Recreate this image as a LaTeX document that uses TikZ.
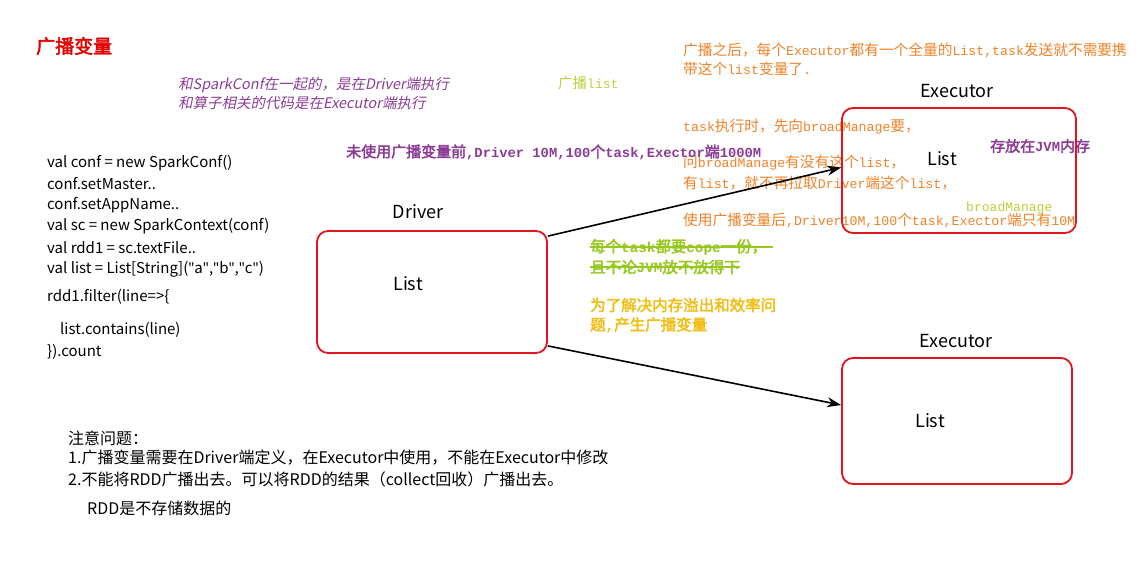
\documentclass[tikz,border=0pt]{standalone}
\usepackage{fontspec}
\usetikzlibrary{calc,arrows.meta}
\setmainfont{Noto Sans CJK SC}
\newfontfamily\lat{Noto Sans}
\newfontfamily\cjkb[FakeBold=2.5]{Noto Sans CJK SC}
\newfontfamily\cjkit[FakeSlant=0.2]{Noto Sans CJK SC}
\newfontfamily\mono[Scale=0.9]{Liberation Mono}
\newfontfamily\monob[Scale=0.92]{Liberation Mono Bold}
\newcommand\m[1]{{\mono #1}}
\newcommand\mb[1]{{\monob #1}}
\newcommand\q{{\lat"}}
\newcommand\fs[1]{\fontsize{#1}{#1}\selectfont}
\definecolor{titlered}{RGB}{228,0,0}
\definecolor{boxred}{RGB}{226,20,30}
\definecolor{purp}{RGB}{140,60,150}
\definecolor{lime}{RGB}{185,210,60}
\definecolor{orng}{RGB}{240,130,40}
\definecolor{sgreen}{RGB}{150,200,30}
\definecolor{gold}{RGB}{240,190,20}
\tikzset{
  txt/.style={anchor=west,inner sep=0pt,font=\fs{15}},
  code/.style={txt,font=\fs{15},text=black},
  note/.style={txt,font=\fs{16},text=black},
  lbl/.style={inner sep=0pt,font=\fs{18},text=black},
  box/.style={draw=boxred,line width=1.8pt,rounded corners=11pt,minimum width=230pt,minimum height=122pt,inner sep=0pt},
  orn/.style={txt,text=orng,font=\fs{14.7}},
  conn/.style={draw=black,line width=1.6pt,-{Stealth[length=14pt,width=10pt]}},
}
\begin{document}
\begin{tikzpicture}[x=1pt,y=-1pt]
\useasboundingbox[fill=white] (0,0) rectangle (1144,560);
% title
\node[txt,text=titlered,font=\fs{19}\cjkb] (title) at (36,46) {广播变量};
% purple italic
\node[txt,text=purp,font=\fs{14.5}\cjkit] (it1) at (178,85) {和SparkConf在一起的，是在Driver端执行};
\node[txt,text=purp,font=\fs{14.5}\cjkit] (it2) at (178,103) {和算子相关的代码是在Executor端执行};
% lime
\node[txt,text=lime,font=\fs{14.5}] (bl) at (558,83) {广播\m{list}};
% orange notes
\node[orn] (o1) at (683,50) {广播之后，每个\m{Executor}都有一个全量的\m{List,task}发送就不需要携};
\node[orn] (o2) at (683,69) {带这个\m{list}变量了\m{.}};
\node[orn] (o3) at (683,127) {\m{task}执行时，先向\m{broadManage}要，};
\node[orn] (o4) at (683,163) {问\m{broadManage}有没有这个\m{list}，};
\node[orn] (o5) at (683,183) {有\m{list}，就不再拉取\m{Driver}端这个\m{list}，};
\node[orn] (o6) at (683,220) {使用广播变量后\m{,Driver10M,100}个\m{task,Exector}端只有\m{10M}};
% purple bold
\node[txt,text=purp,font=\fs{15}\cjkb] (p1) at (346,152) {未使用广播变量前\mb{,Driver 10M,100}个\mb{task,Exector}端\mb{1000M}};
\node[txt,text=purp,font=\fs{15}\cjkb] (p2) at (990,146) {存放在\mb{JVM}内存};
\node[txt,text=lime,font=\fs{14.5}] (bm) at (966,208) {\m{broadManage}};
% green strikethrough
\node[txt,text=sgreen,font=\fs{15.5}\cjkb] (g1) at (590,247) {每个\mb{task}都要\mb{cope}一份，};
\node[txt,text=sgreen,font=\fs{15.5}\cjkb] (g2) at (590,267) {且不论\mb{JVM}放不放得下};
\draw[sgreen,line width=1.2pt] (g1.west) -- ($(g1.east)+(6,0)$);
\draw[sgreen,line width=1.2pt] (g2.west) -- (g2.east);
% gold
\node[txt,text=gold,font=\fs{15.5}\cjkb] (y1) at (590,305) {为了解决内存溢出和效率问};
\node[txt,text=gold,font=\fs{15.5}\cjkb] (y2) at (590,325) {题\mb{,}产生广播变量};
% code
\node[code] (c1) at (47,163) {val conf = new SparkConf()};
\node[code] (c2) at (47,184) {conf.setMaster..};
\node[code] (c3) at (47,205) {conf.setAppName..};
\node[code] (c4) at (47,226) {val sc = new SparkContext(conf)};
\node[code] (c5) at (47,248) {val rdd1 = sc.textFile..};
\node[code] (c6) at (47,269) {val list = List[String](\q a\q,\q b\q,\q c\q)};
\node[code] (c7) at (47,297) {rdd1.filter(line=>\{};
\node[code] (c8) at (60,330) {list.contains(line)};
\node[code] (c9) at (47,352) {\}).count};
% boxes
\node[box] (drv) at (432,292) {};
\node[box,minimum width=234pt,minimum height=125pt] (ex1) at (959,170.5) {};
\node[box,minimum height=126pt] (ex2) at (957,421) {};
\node[lbl] (drvl) at (418,212) {Driver};
\node[lbl] (drvlist) at (408,284) {List};
\node[lbl] (ex1l) at (957,91) {Executor};
\node[lbl] (ex1list) at (942,159) {List};
\node[lbl] (ex2l) at (956,341) {Executor};
\node[lbl] (ex2list) at (930,421) {List};
% arrows
\draw[conn] ($(drv.north east)+(0,6)$) -- ($(ex1.west)+(0,-3)$);
\draw[conn] ($(drv.south east)+(0,-8)$) -- ($(ex2.west)+(0,-16)$);
% notes
\node[note] (n1) at (68,438) {注意问题：};
\node[note] (n2) at (68,458) {1.广播变量需要在Driver端定义，在Executor中使用，不能在Executor中修改};
\node[note] (n3) at (68,479) {2.不能将RDD广播出去。可以将RDD的结果（collect回收）广播出去。};
\node[note] (n4) at (87,508) {RDD是不存储数据的};
\end{tikzpicture}
\end{document}
